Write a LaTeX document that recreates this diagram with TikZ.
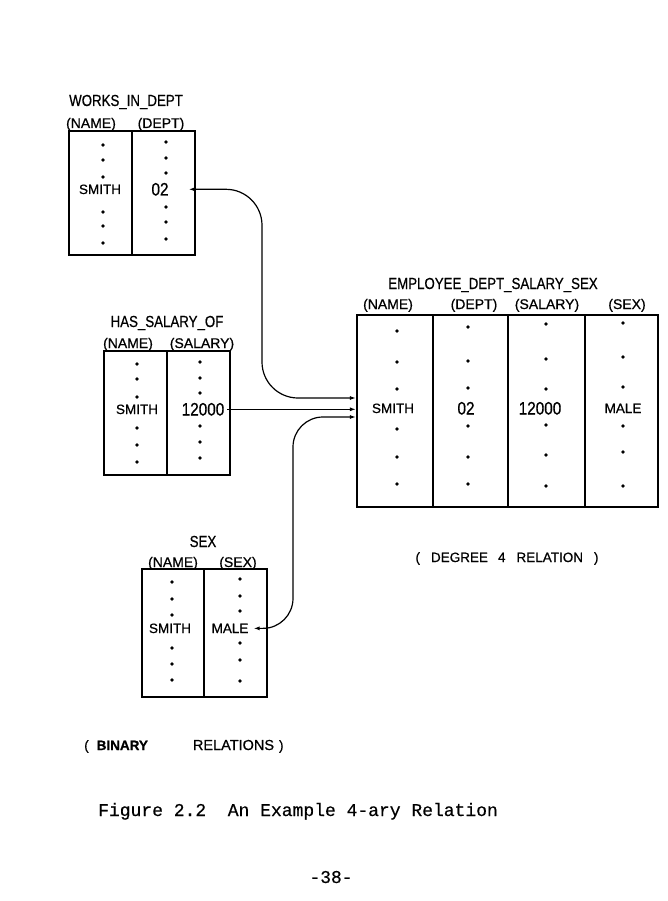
\documentclass[tikz,border=0pt]{standalone}
\usepackage{fontspec}
\setmainfont{Liberation Sans}
\newfontfamily\valfont[FakeBold=0.6]{Liberation Sans}
\newfontfamily\ttlfont[FakeStretch=0.83,FakeBold=0.6]{Liberation Sans}
\newfontfamily\digfont[FakeStretch=0.85,FakeBold=0.6]{Liberation Sans}
\newfontfamily\capfont[FakeBold=0.4]{Liberation Mono}
\usetikzlibrary{arrows.meta}
\frenchspacing
\tikzset{
  ttl/.style={font=\ttlfont\fontsize{16}{18}\selectfont, inner sep=0pt, anchor=base},
  hdr/.style={font=\valfont\fontsize{14}{16}\selectfont, inner sep=0pt, anchor=base},
  val/.style={font=\valfont\fontsize{13.5}{16}\selectfont, inner sep=0pt, anchor=base},
  num/.style={font=\digfont\fontsize{18}{20}\selectfont, inner sep=0pt, anchor=base},
  note/.style={font=\valfont\fontsize{13.5}{16}\selectfont, inner sep=0pt, anchor=base},
  mono/.style={font=\capfont\fontsize{18}{20}\selectfont, inner sep=0pt, anchor=base},
  rel/.style={draw, line width=2.2pt, inner sep=0pt, rectangle},
  divl/.style={line width=1.8pt},
  conn/.style={line width=1.2pt, arrows={Latex[length=6pt,width=4pt]-Latex[length=6pt,width=4pt]}},
  conn1/.style={line width=1.2pt, arrows={-Latex[length=6pt,width=4pt]}},
}
\newcommand\dotcol[2]{\foreach \dy in {#2} {\fill (#1,\dy) circle (1.8pt);}}
\begin{document}
\begin{tikzpicture}[x=1pt,y=-1pt]
\fill[white] (0,0) rectangle (668,901);
\useasboundingbox (0,0) rectangle (668,901);

% ---------- WORKS_IN_DEPT ----------
\node[rel, minimum width=126pt, minimum height=124pt] (wbox) at (132,193) {};
\draw[divl] (132,131) -- (132,255);
\node[ttl, anchor=base west] (wt) at (69,106) {WORKS\_IN\_DEPT};
\node[hdr] (wh1) at (91,128) {(NAME)};
\node[hdr] (wh2) at (161,128) {(DEPT)};
\node[val] (ws) at (100,194) {SMITH};
\node[num] (d02) at (160,195.5) {02};
\dotcol{103}{145,160,177,212,226,243}
\dotcol{166}{142,158,173,207,222,239}

% ---------- HAS_SALARY_OF ----------
\node[rel, minimum width=126pt, minimum height=124pt] (hbox) at (167,413) {};
\draw[divl] (167,351) -- (167,475);
\node[ttl] (ht) at (167,327) {HAS\_SALARY\_OF};
\node[hdr] (hh1) at (128,348) {(NAME)};
\node[hdr] (hh2) at (202,348) {(SALARY)};
\node[val] (hs) at (137,414) {SMITH};
\node[num] (s12) at (203,415.5) {12000};
\dotcol{137}{364,379,397,428,445,462}
\dotcol{200}{362,378,393,426,442,458}

% ---------- SEX ----------
\node[rel, minimum width=125pt, minimum height=128pt] (sbox) at (204.5,633) {};
\draw[divl] (204,569) -- (204,697);
\node[ttl] (st) at (203,547) {SEX};
\node[hdr] (sh1) at (173,567) {(NAME)};
\node[hdr] (sh2) at (238,567) {(SEX)};
\node[val] (ss) at (170,633) {SMITH};
\node[val] (male) at (230,633) {MALE};
\dotcol{172}{582,599,615,648,664,680}
\dotcol{240}{579,596,611,643,660,681}

% ---------- EMPLOYEE_DEPT_SALARY_SEX ----------
\node[rel, minimum width=301pt, minimum height=192pt] (emp) at (507.5,411) {};
\draw[divl] (433,315) -- (433,507);
\draw[divl] (508,315) -- (508,507);
\draw[divl] (585,315) -- (585,507);
\node[ttl] (et) at (493,289) {EMPLOYEE\_DEPT\_SALARY\_SEX};
\node[hdr] (eh1) at (388,309) {(NAME)};
\node[hdr] (eh2) at (474,309) {(DEPT)};
\node[hdr] (eh3) at (547,309) {(SALARY)};
\node[hdr] (eh4) at (627,309) {(SEX)};
\node[val] (es) at (393,413) {SMITH};
\node[num] (ed) at (466,414.5) {02};
\node[num] (esal) at (540,414.5) {12000};
\node[val] (em) at (623,413) {MALE};
\dotcol{397}{331,362,389,429,457,484}
\dotcol{468}{327,361,388,426,457,484}
\dotcol{546}{324,359,389,425,455,486}
\dotcol{623}{323,357,387,426,452,486}
\node[note] (deg) at (507,562) {(\hspace{11pt}DEGREE\hspace{10pt}4\hspace{11pt}RELATION\hspace{11pt})};

% ---------- connectors ----------
\coordinate (v1) at (262,0);
\coordinate (v3) at (293,0);
\coordinate (a1) at ([yshift=13pt]emp.west);
\coordinate (a3) at ([yshift=-6pt]emp.west);
\draw[conn, rounded corners=36pt] ([xshift=20pt]d02.east) -- (d02.east -| v1) -- (v1 |- a1) -- (a1);
\draw[conn1] ([xshift=3pt]s12.east) -- (s12.east -| emp.west);
\draw[conn, rounded corners=30pt] ([xshift=5pt]male.east) -- (male.east -| v3) -- (v3 |- a3) -- (a3);

% ---------- bottom texts ----------
\node[note, anchor=base west] (bin) at (84,750) {(\hspace{8pt}\textbf{BINARY}\hspace{45pt}{\fontsize{14.5}{16}\selectfont RELATIONS}\hspace{5pt})};
\node[mono, anchor=base west] (cap) at (98,816) {Figure 2.2\ \ An Example 4-ary Relation};
\node[mono] (pg) at (331,883) {-38-};
\end{tikzpicture}
\end{document}
